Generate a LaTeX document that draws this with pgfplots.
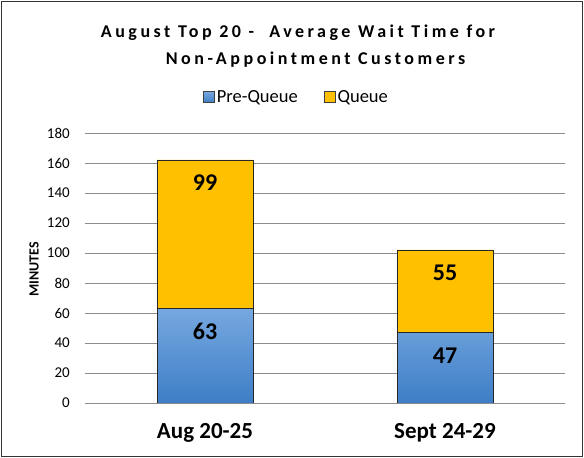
\documentclass[border=0pt]{standalone}
\usepackage{fontspec}
\setmainfont{Carlito}
\newfontfamily\titlefont[LetterSpace=19.5]{Carlito}
\usepackage{pgfplots}
\pgfplotsset{compat=1.18}
\definecolor{qyellow}{RGB}{255,192,0}
\definecolor{bluetop}{RGB}{118,168,224}
\definecolor{bluebot}{RGB}{62,126,198}
\definecolor{gridgray}{RGB}{140,140,140}
\begin{document}
\begin{tikzpicture}[x=1pt,y=1pt]
\useasboundingbox (0,0) rectangle (584,458);
\draw[black!80, line width=1pt] (1.5,1.5) rectangle (582.5,456.5);
\node[font=\titlefont\bfseries\fontsize{18}{21}\selectfont, anchor=base, inner sep=0pt] at (298,420) {August Top 20 - \ Average Wait Time for};
\node[font=\titlefont\bfseries\fontsize{18}{21}\selectfont, anchor=base, inner sep=0pt] at (315.5,393.5) {Non-Appointment Customers};
\begin{axis}[
  at={(85pt,55pt)}, anchor=south west, scale only axis,
  width=480pt, height=270pt,
  xmin=-0.5, xmax=1.5, ymin=0, ymax=180,
  ybar stacked, bar width=96pt,
  axis line style={draw=none}, major tick length=0pt,
  ytick={0,20,...,180}, xtick={0,1}, xticklabels={Aug 20-25, Sept 24-29},
  ymajorgrids, grid style={gridgray, line width=0.9pt},
  /pgf/number format/assume math mode=true,
  yticklabel style={font=\fontsize{15}{18}\selectfont, inner sep=0pt, anchor=east, xshift=-15pt},
  xticklabel style={font=\bfseries\fontsize{23}{27}\selectfont, inner sep=0pt, anchor=north, yshift=-20pt},
  ylabel={MINUTES},
  ylabel style={font=\bfseries\fontsize{14}{16}\selectfont, at={(axis description cs:-0.106,0.496)}, anchor=center},
  point meta=rawy,
  visualization depends on={\thisrow{y} \as \segval},
  nodes near coords,
  every node near coord/.append style={font=\bfseries\fontsize{24}{28}\selectfont,
     anchor=center, shift={(axis direction cs:0,\segval/2)}, yshift=-23pt},
  legend style={at={(axis description cs:0.4406,1.1333)}, anchor=center, draw=none, fill=none,
    legend columns=2, font=\fontsize{18.5}{21}\selectfont,
    /tikz/every even column/.append style={column sep=24pt}},
  legend image code/.code={\draw[#1,draw=black!75,line width=0.8pt] (-6pt,-5.5pt) rectangle (5pt,5.5pt);},
]
\addplot[draw=black!85, line width=0.8pt, top color=bluetop, bottom color=bluebot] table[x=x,y=y] {
x y
0 63
1 47
};
\addplot[draw=black!85, line width=0.8pt, fill=qyellow] table[x=x,y=y] {
x y
0 99
1 55
};
\legend{Pre-Queue, Queue}
\end{axis}
\end{tikzpicture}
\end{document}
